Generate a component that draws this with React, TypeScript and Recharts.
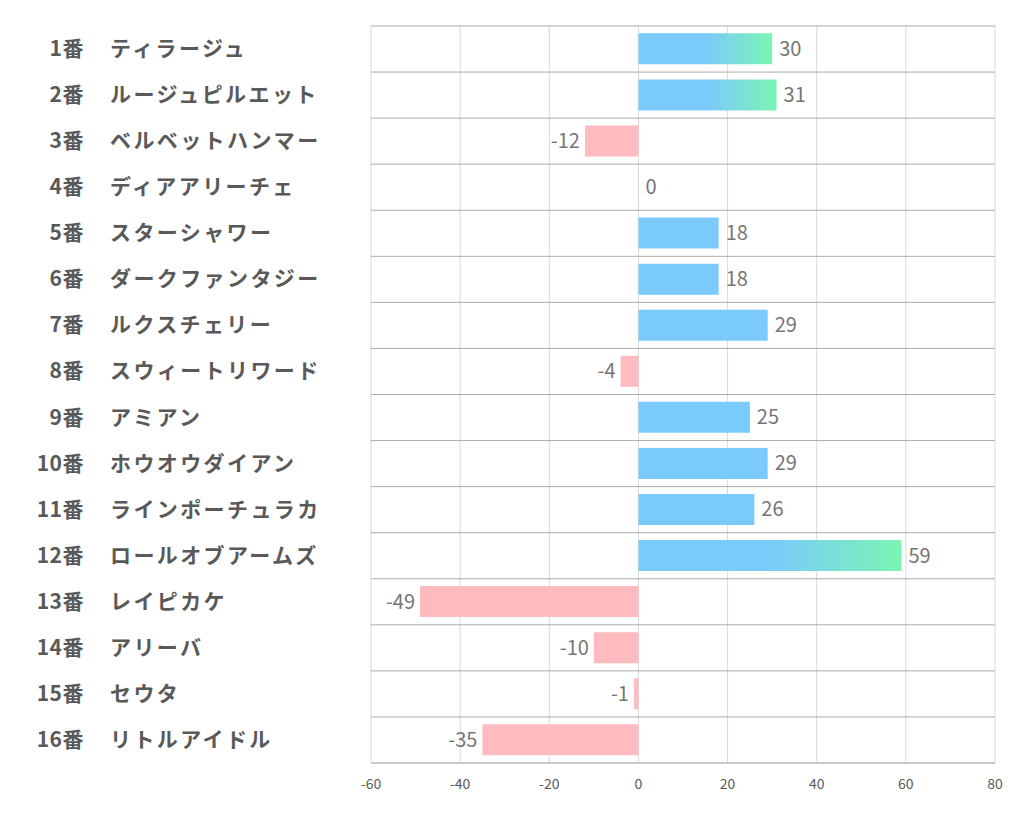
import React from "react";
import {
  Bar,
  BarChart,
  CartesianGrid,
  Cell,
  LabelList,
  XAxis,
  YAxis,
} from "recharts";

const numbers = ["1番", "2番", "3番", "4番", "5番", "6番", "7番", "8番", "9番", "10番", "11番", "12番", "13番", "14番", "15番", "16番"];
const horses = [
  "ティラージュ",
  "ルージュピルエット",
  "ベルベットハンマー",
  "ディアアリーチェ",
  "スターシャワー",
  "ダークファンタジー",
  "ルクスチェリー",
  "スウィートリワード",
  "アミアン",
  "ホウオウダイアン",
  "ラインポーチュラカ",
  "ロールオブアームズ",
  "レイピカケ",
  "アリーバ",
  "セウタ",
  "リトルアイドル",
];
const scores = [30, 31, -12, 0, 18, 18, 29, -4, 25, 29, 26, 59, -49, -10, -1, -35];
const xTicks = [-60, -40, -20, 0, 20, 40, 60, 80];

const data = numbers.map((n, i) => ({ key: n, num: n, name: horses[i], value: scores[i] }));

const FONT = "'Noto Sans CJK JP', 'Noto Sans', sans-serif";

const HorseTick = (props: any) => {
  const { y, payload, index } = props;
  const row = data[index] ?? data.find((d) => d.key === payload.value);
  return (
    <g>
      <text x={84} y={y} dy={7} textAnchor="end" fontSize={21} fontWeight="bold" fill="#595959" fontFamily={FONT} letterSpacing={0.5}>
        {row?.num}
      </text>
      <text x={110} y={y} dy={7} textAnchor="start" fontSize={21} fontWeight="bold" fill="#595959" fontFamily={FONT} letterSpacing={2.4}>
        {row?.name}
      </text>
    </g>
  );
};

const ValueLabel = (props: any) => {
  const { x, y, width, height, value } = props;
  const left = Math.min(x, x + width);
  const right = Math.max(x, x + width);
  const cy = y + height / 2;
  if (value < 0) {
    return (
      <text x={left - 5} y={cy} dy={7} textAnchor="end" fontSize={20} fill="#767676" fontFamily={FONT}>
        {value}
      </text>
    );
  }
  return (
    <text x={right + 7} y={cy} dy={7} textAnchor="start" fontSize={20} fill="#767676" fontFamily={FONT}>
      {value}
    </text>
  );
};

// lines between rows, not through the middle of them
const rowLines = ({ offset }: any) => {
  const step = offset.height / numbers.length;
  return numbers.map((_, i) => offset.top + i * step).concat(offset.top + offset.height);
};

// zero bars still need a rect so the "0" label gets drawn
const zeroSize = (v: any) => (v === 0 ? 0.01 : 0);

export default function App() {
  return (
    <div style={{ position: "absolute", left: 0, top: 0, background: "#fff" }}>
      <BarChart
        width={1022}
        height={834}
        data={data}
        layout="vertical"
        margin={{ top: 26, right: 27, bottom: 41, left: 0 }}
        barCategoryGap="16%"
      >
        <defs>
          <linearGradient id="blueGreen" x1="0" y1="0" x2="1" y2="0">
            <stop offset="0" stopColor="#7bcafc" />
            <stop offset="0.5" stopColor="#7bcafc" />
            <stop offset="1" stopColor="#7af5b3" />
          </linearGradient>
        </defs>
        <CartesianGrid horizontal={false} stroke="#d9d9d9" />
        <CartesianGrid vertical={false} stroke="#ababab" horizontalCoordinatesGenerator={rowLines} />
        <XAxis
          type="number"
          domain={[-60, 80]}
          ticks={xTicks}
          interval={0}
          tickLine={false}
          axisLine={{ stroke: "#bfbfbf" }}
          tick={{ fill: "#595959", fontSize: 14, fontFamily: FONT }}
          tickMargin={10}
          height={30}
        />
        <YAxis
          type="category"
          dataKey="key"
          width={371}
          tickLine={false}
          axisLine={false}
          tick={<HorseTick />}
          interval={0}
        />
        <Bar dataKey="value" isAnimationActive={false} minPointSize={zeroSize}>
          {data.map((d, i) => (
            <Cell key={i} fill={d.value < 0 ? "#ffbbbe" : d.value >= 30 ? "url(#blueGreen)" : "#7bcafc"} />
          ))}
          <LabelList dataKey="value" content={<ValueLabel />} />
        </Bar>
      </BarChart>
    </div>
  );
}
